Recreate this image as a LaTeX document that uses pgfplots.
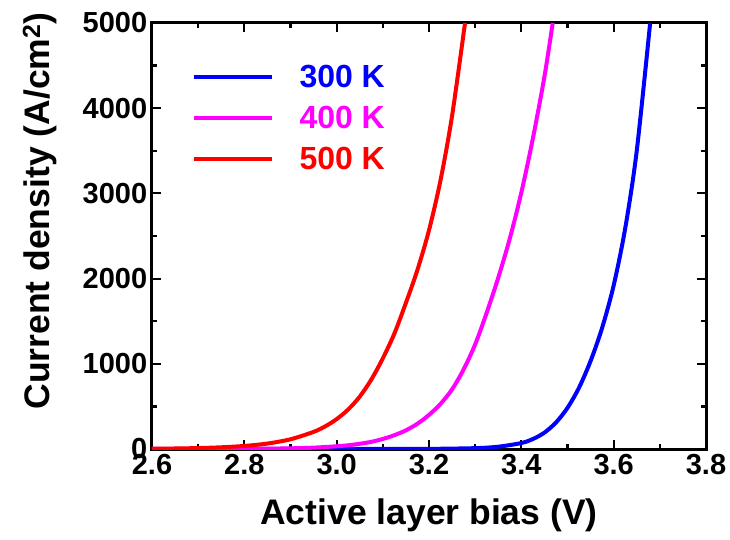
\documentclass[border=0pt]{standalone}
\usepackage{pgfplots}
\pgfplotsset{compat=1.18}
\usepackage{fontspec}
\setmainfont{Liberation Sans}
\definecolor{cblue}{RGB}{0,0,255}
\definecolor{cmag}{RGB}{255,0,255}
\definecolor{cred}{RGB}{255,0,0}
\begin{document}
\begin{tikzpicture}
\begin{axis}[
  scale only axis,
  width=554pt, height=426pt,
  xmin=2.6, xmax=3.8, ymin=0, ymax=5000,
  xtick={2.6,2.8,...,3.81}, minor xtick={2.7,2.9,...,3.71},
  ytick={0,1000,...,5000}, minor ytick={500,1500,...,4500},
  tick align=inside, major tick length=9pt, minor tick length=5pt,
  every tick/.style={black, line width=2.2pt},
  line width=3pt,
  axis line style={line width=3pt},
  /pgf/number format/assume math mode=true,
  xticklabel style={/pgf/number format/fixed, /pgf/number format/fixed zerofill, /pgf/number format/precision=1},
  yticklabel style={/pgf/number format/1000 sep={}},
  tick label style={font=\fontsize{29}{31}\selectfont\bfseries},
  label style={font=\fontsize{35.5}{38}\selectfont\bfseries},
  xlabel={Active layer bias (V)},
  ylabel={Current density (A/cm$^{\mathbf{2}}$)},
  xlabel style={yshift=-16pt},
  ylabel style={yshift=18pt, xshift=25pt},
  legend style={at={(rel axis cs:0.0686,0.905)}, anchor=north west, draw=none, fill=none,
    inner xsep=0pt, inner ysep=0pt, row sep=17pt,
    font=\fontsize{32}{34}\selectfont\bfseries,
    nodes={inner sep=0pt},
    /tikz/every odd column/.append style={column sep=26pt}},
  legend image code/.code={\draw[#1, line width=4pt] (0pt,0pt) -- (78pt,0pt);},
  legend cell align=left,
]
\coordinate (sw) at (rel axis cs:0,0);
\coordinate (ne) at (rel axis cs:1,1);
\addplot[cblue, line width=4pt, smooth] coordinates {
(2.60,0) (2.80,0.02) (3.00,0.1) (3.10,0.5) (3.20,1.5) (3.30,10) (3.35,27) (3.40,70)
(3.425,117) (3.45,192) (3.475,311) (3.50,483) (3.525,720) (3.55,1033) (3.575,1422)
(3.60,1920) (3.625,2590) (3.65,3500) (3.679,5000)};
\addlegendentry{\textcolor{cblue}{300 K}}
\addplot[cmag, line width=4pt, smooth] coordinates {
(2.60,0.1) (2.70,0.5) (2.80,2) (2.85,4) (2.90,8) (2.95,16) (3.00,32) (3.025,44) (3.05,61)
(3.075,84) (3.10,118) (3.125,162) (3.15,219) (3.175,297) (3.20,400) (3.225,530)
(3.25,700) (3.275,934) (3.30,1228) (3.325,1600) (3.35,2010) (3.375,2470) (3.40,3010)
(3.425,3644) (3.45,4370) (3.468,5000)};
\addlegendentry{\textcolor{cmag}{400 K}}
\addplot[cred, line width=4pt, smooth] coordinates {
(2.60,3.5) (2.65,6) (2.70,11) (2.75,20) (2.80,36) (2.85,64) (2.90,114) (2.95,201)
(2.975,265) (3.00,351) (3.025,464) (3.05,615) (3.075,815) (3.10,1064) (3.125,1355)
(3.15,1715) (3.175,2103) (3.20,2568) (3.225,3156) (3.25,3911) (3.278,5000)};
\addlegendentry{\textcolor{cred}{500 K}}
\end{axis}
\pgfresetboundingbox
\path ([shift={(-152pt,-91pt)}]sw) rectangle ([shift={(24pt,23pt)}]ne);
\end{tikzpicture}
\end{document}
